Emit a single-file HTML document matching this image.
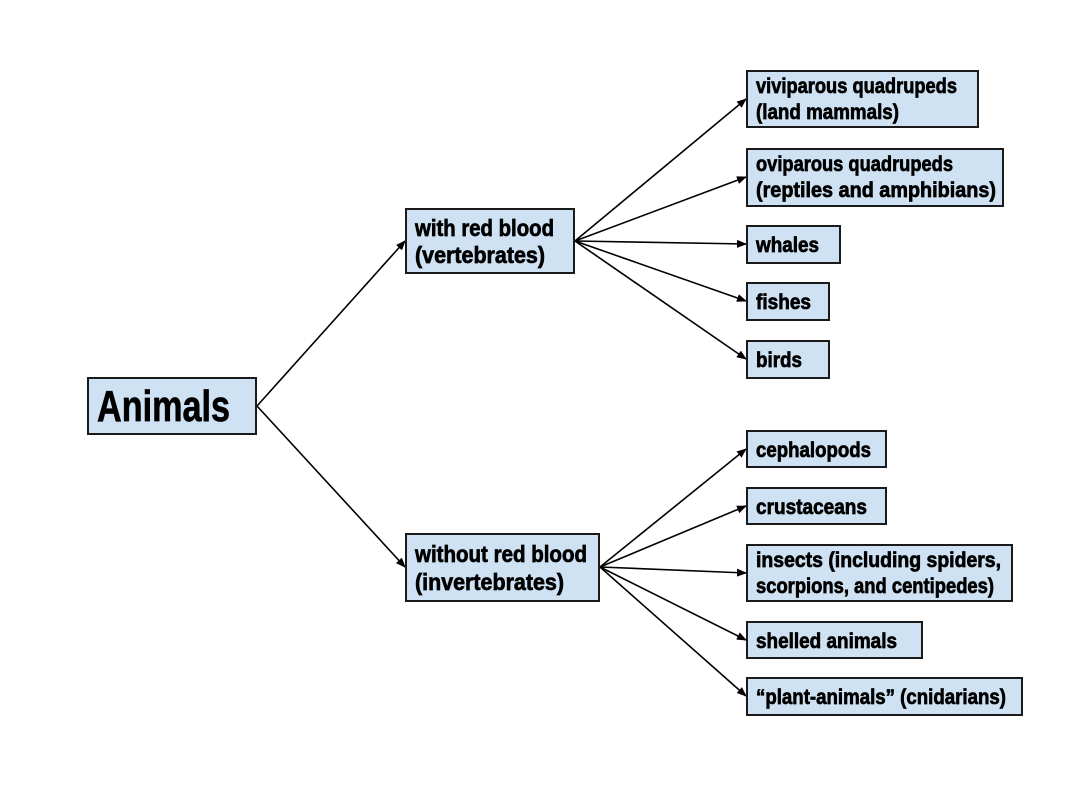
<!DOCTYPE html>
<html><head><style>
body{margin:0;background:#fff;}
svg{display:block}
text{font-family:"Liberation Sans Narrow","Liberation Sans",sans-serif;font-weight:bold;fill:#000;stroke:#000;stroke-width:0.7;}
rect{fill:#cfe2f3;stroke:#1a1a1a;stroke-width:2}
line{stroke:#000;stroke-width:1.6}
</style></head><body>
<svg width="1092" height="787" viewBox="0 0 1092 787">
<defs><marker id="a" markerWidth="10" markerHeight="8" refX="9" refY="4" orient="auto" markerUnits="userSpaceOnUse"><path d="M0,0 L10,4 L0,8 z" fill="#000"/></marker></defs>
<g marker-end="url(#a)">
<line x1="257" y1="406" x2="405" y2="241"/>
<line x1="257" y1="406" x2="405" y2="567"/>
<line x1="575" y1="241" x2="746" y2="99"/>
<line x1="575" y1="241" x2="746" y2="177"/>
<line x1="575" y1="241" x2="746" y2="244"/>
<line x1="575" y1="241" x2="746" y2="301"/>
<line x1="575" y1="241" x2="746" y2="359"/>
<line x1="600" y1="567" x2="746" y2="449"/>
<line x1="600" y1="567" x2="746" y2="506"/>
<line x1="600" y1="567" x2="746" y2="573"/>
<line x1="600" y1="567" x2="746" y2="640"/>
<line x1="600" y1="567" x2="746" y2="696"/>
</g>
<rect x="88" y="378" width="168" height="56"/>
<text x="97" y="421" font-size="44" stroke-width="1.5" textLength="133" lengthAdjust="spacingAndGlyphs">Animals</text>
<rect x="406" y="209" width="168" height="64"/>
<text x="415" y="236" font-size="23" textLength="139" lengthAdjust="spacingAndGlyphs">with red blood</text>
<text x="415" y="263" font-size="23" textLength="130" lengthAdjust="spacingAndGlyphs">(vertebrates)</text>
<rect x="406" y="534" width="193" height="67"/>
<text x="415" y="562" font-size="23" textLength="172" lengthAdjust="spacingAndGlyphs">without red blood</text>
<text x="415" y="590" font-size="23" textLength="149" lengthAdjust="spacingAndGlyphs">(invertebrates)</text>
<rect x="747" y="71" width="231" height="56"/>
<text x="756" y="93" font-size="21" textLength="201" lengthAdjust="spacingAndGlyphs">viviparous quadrupeds</text>
<text x="756" y="119" font-size="21" textLength="143" lengthAdjust="spacingAndGlyphs">(land mammals)</text>
<rect x="747" y="149" width="256" height="57"/>
<text x="756" y="171" font-size="21" textLength="197" lengthAdjust="spacingAndGlyphs">oviparous quadrupeds</text>
<text x="756" y="197" font-size="21" textLength="240" lengthAdjust="spacingAndGlyphs">(reptiles and amphibians)</text>
<rect x="747" y="226" width="93" height="37"/>
<text x="756" y="252" font-size="21" textLength="63" lengthAdjust="spacingAndGlyphs">whales</text>
<rect x="747" y="283" width="82" height="37"/>
<text x="756" y="309" font-size="21" textLength="55" lengthAdjust="spacingAndGlyphs">fishes</text>
<rect x="747" y="341" width="82" height="37"/>
<text x="756" y="367" font-size="21" textLength="46" lengthAdjust="spacingAndGlyphs">birds</text>
<rect x="747" y="431" width="139" height="36"/>
<text x="756" y="457" font-size="21" textLength="115" lengthAdjust="spacingAndGlyphs">cephalopods</text>
<rect x="747" y="488" width="139" height="36"/>
<text x="756" y="514" font-size="21" textLength="111" lengthAdjust="spacingAndGlyphs">crustaceans</text>
<rect x="747" y="545" width="265" height="56"/>
<text x="756" y="567" font-size="21" textLength="245" lengthAdjust="spacingAndGlyphs">insects (including spiders,</text>
<text x="756" y="593" font-size="21" textLength="238" lengthAdjust="spacingAndGlyphs">scorpions, and centipedes)</text>
<rect x="747" y="622" width="175" height="36"/>
<text x="756" y="648" font-size="21" textLength="141" lengthAdjust="spacingAndGlyphs">shelled animals</text>
<rect x="747" y="678" width="275" height="37"/>
<text x="756" y="704" font-size="21" textLength="250" lengthAdjust="spacingAndGlyphs">“plant-animals” (cnidarians)</text>
</svg>
</body></html>
